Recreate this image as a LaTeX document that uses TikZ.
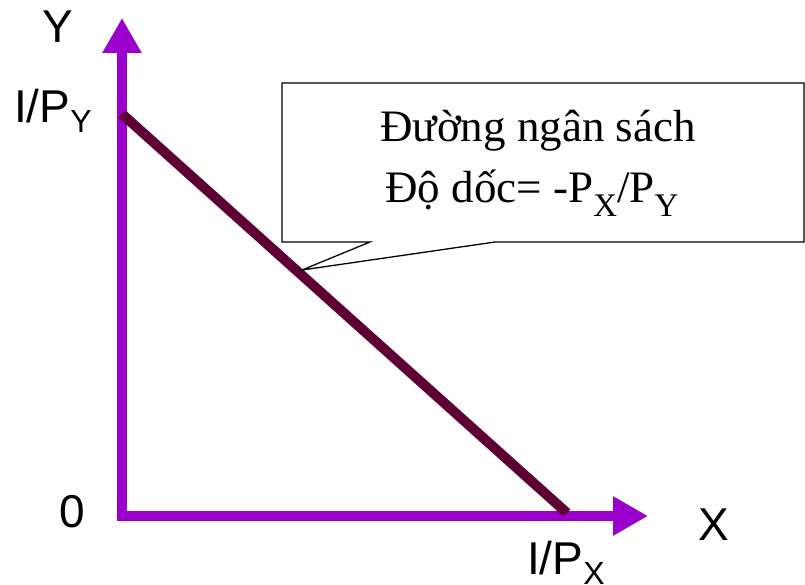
\documentclass[tikz,border=0pt]{standalone}
\usepackage{fontspec}
\setmainfont{Liberation Serif}
\setsansfont{Liberation Sans}
\usetikzlibrary{arrows.meta}
\definecolor{axiscol}{HTML}{9900CC}
\definecolor{budget}{HTML}{5E0034}
\newcommand{\ssub}[1]{\raisebox{-10pt}{\fontsize{32}{32}\selectfont #1}}
\newcommand{\rsub}[1]{\raisebox{-14pt}{\fontsize{33}{33}\selectfont #1}}
\tikzset{
  axis/.style={draw=axiscol, line width=10pt, -{Triangle[length=35pt,width=37pt]}},
  lbl/.style={font=\sffamily\fontsize{46}{50}\selectfont, inner sep=0pt},
  calltext/.style={font=\fontsize{45}{50}\selectfont, inner sep=0pt, anchor=base},
}
\begin{document}
\begin{tikzpicture}[x=1pt,y=-1pt]
\useasboundingbox (0,0) rectangle (805,585);
\coordinate (O) at (122,516);
\coordinate (Ytop) at (122,18);
\coordinate (Xend) at (648,516);
\coordinate (B1) at (122,114);
\coordinate (B2) at (567,513);
\draw[axis] (122,521) -- (Ytop);
\draw[axis] (117,516) -- (Xend);
\draw[budget, line width=10pt] (B1) -- (B2);
\coordinate (tip) at (302,270);
\filldraw[fill=white, draw=black, line width=1.3pt]
  (282,83) -- (804,83) -- (804,242) -- (495,242) -- (tip) -- (370,242) -- (282,242) -- cycle;
\node[calltext] (t1) at (538,142) {Đường ngân sách};
\node[calltext] (t2) at (532,203) {Độ dốc= -P\rsub{X}/P\rsub{Y}};
\node[lbl, anchor=base] (ly) at (58,43) {Y};
\node[lbl, anchor=base west] (lpy) at (14,123) {I/P\ssub{Y}};
\node[lbl, anchor=base] (l0) at (72,527) {0};
\node[lbl, anchor=base] (lx) at (714,540) {X};
\node[lbl, anchor=base west] (lpx) at (527,574) {I/P\ssub{X}};
\end{tikzpicture}
\end{document}
